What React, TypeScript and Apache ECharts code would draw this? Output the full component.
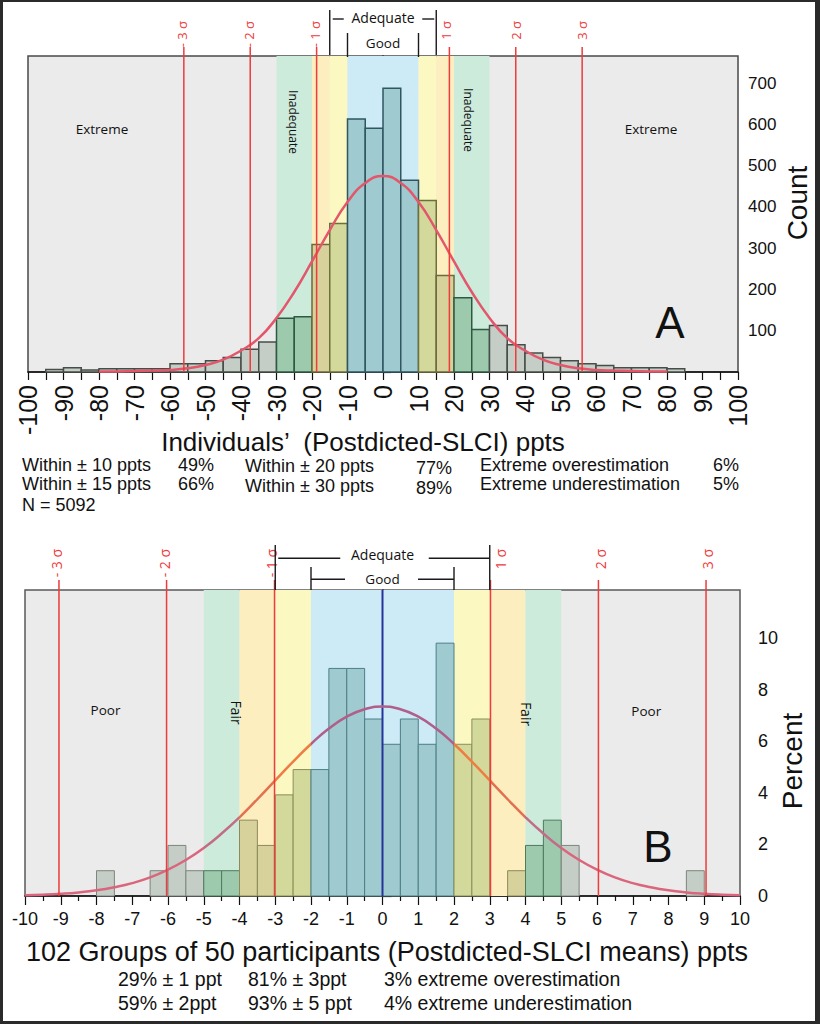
import React, { useEffect, useRef } from "react";
import * as echarts from "echarts";

// ---------------- Panel A (individuals) ----------------
const topBinStarts = [-95, -90, -85, -80, -75, -70, -65, -60, -55, -50, -45, -40, -35, -30, -25, -20, -15, -10, -5, 0, 5, 10, 15, 20, 25, 30, 35, 40, 45, 50, 55, 60, 65, 70, 75, 80];
const topBinWidth = 5;
const topCounts = [6, 10, 5, 8, 8, 8, 8, 20, 20, 27, 35, 55, 73, 130, 134, 309, 360, 613, 591, 688, 465, 416, 234, 180, 103, 113, 66, 46, 35, 27, 20, 16, 10, 10, 10, 8];
const topCurveX = [-80, -75, -70, -65, -60, -55, -50, -45, -40, -35, -30, -25, -20, -15, -10, -5, 0, 5, 10, 15, 20, 25, 30, 35, 40, 45, 50, 55, 60, 65, 70, 75, 80];
const topCurveY = [1, 1.5, 2.5, 3.5, 5, 9, 17, 30, 52, 82, 131, 194, 268, 344, 412, 458, 475, 458, 412, 344, 268, 194, 131, 82, 52, 30, 17, 9, 5, 3.5, 2.5, 1.5, 1];
const topSigmaPos = [-56.1, -37.4, -18.7, 18.7, 37.4, 56.1];
const topSigmaLabels = ["- 3 σ", "- 2 σ", "- 1 σ", "1 σ", "2 σ", "3 σ"];
const topZoneFrom = [-30, -20, -15, -10, 10, 15, 20];
const topZoneTo = [-20, -15, -10, 10, 15, 20, 30];
const topZoneKind = ["green", "orange", "yellow", "blue", "yellow", "orange", "green"];
const topYTicks = [0, 100, 200, 300, 400, 500, 600, 700];
const topYLabels = [100, 200, 300, 400, 500, 600, 700];
const topBracketFrom = [-15, -10];
const topBracketTo = [15, 10];
const topBracketLabels = ["Adequate", "Good"];
const topZoneLabels = ["Extreme", "Extreme", "Inadequate", "Inadequate"];
const topTitle = "Individuals\u2019  (Postdicted-SLCI) ppts";
const topStatsLeft = ["Within \u00b1 10 ppts", "Within \u00b1 15 ppts"];
const topStatsLeftPct = ["49%", "66%"];
const topStatsMid = ["Within \u00b1 20 ppts", "Within \u00b1 30 ppts"];
const topStatsMidPct = ["77%", "89%"];
const topStatsRight = ["Extreme overestimation", "Extreme underestimation"];
const topStatsRightPct = ["6%", "5%"];
const topN = "N = 5092";

// ---------------- Panel B (groups) ----------------
const botBinStarts = [-8, -6.5, -6, -5.5, -5, -4.5, -4, -3.5, -3, -2.5, -2, -1.5, -1, -0.5, 0, 0.5, 1, 1.5, 2, 2.5, 3.5, 4, 4.5, 5, 8.5];
const botBinWidth = 0.5;
const botPercents = [0.98, 0.98, 1.96, 0.98, 0.98, 0.98, 2.94, 1.96, 3.92, 4.9, 4.9, 8.82, 8.82, 6.86, 5.88, 6.86, 5.88, 9.8, 5.88, 6.86, 0.98, 1.96, 2.94, 1.96, 0.98];
const botCurveX = [-10, -9.5, -9, -8.5, -8, -7.5, -7, -6.5, -6, -5.5, -5, -4.5, -4, -3.5, -3, -2.5, -2, -1.5, -1, -0.5, 0, 0.5, 1, 1.5, 2, 2.5, 3, 3.5, 4, 4.5, 5, 5.5, 6, 6.5, 7, 7.5, 8, 8.5, 9, 9.5, 10];
const botCurveY = [0.03, 0.052, 0.087, 0.14, 0.22, 0.34, 0.5, 0.72, 1.02, 1.4, 1.86, 2.42, 3.05, 3.75, 4.48, 5.21, 5.89, 6.49, 6.95, 7.24, 7.34, 7.24, 6.95, 6.49, 5.89, 5.21, 4.48, 3.75, 3.05, 2.42, 1.86, 1.4, 1.02, 0.72, 0.5, 0.34, 0.22, 0.14, 0.087, 0.052, 0.03];
const botSigmaPos = [-9.05, -6.04, -3.02, 3.02, 6.04, 9.05];
const botSigmaLabels = ["- 3 σ", "- 2 σ", "- 1 σ", "1 σ", "2 σ", "3 σ"];
const botZoneFrom = [-5, -4, -3, -2, 2, 3, 4];
const botZoneTo = [-4, -3, -2, 2, 3, 4, 5];
const botZoneKind = ["green", "orange", "yellow", "blue", "yellow", "orange", "green"];
const botYTicks = [0, 2, 4, 6, 8, 10];
const botYLabels = [0, 2, 4, 6, 8, 10];
const botMean = [0];
const botBracketFrom = [-3, -2];
const botBracketTo = [3, 2];
const botBracketLabels = ["Adequate", "Good"];
const botZoneLabels = ["Poor", "Poor", "Fair", "Fair"];
const botTitle = "102 Groups of 50 participants (Postdicted-SLCI means) ppts";
const botStatsCol1 = ["29% \u00b1 1 ppt", "59% \u00b1 2ppt"];
const botStatsCol2 = ["81% \u00b1 3ppt", "93% \u00b1 5 ppt"];
const botStatsCol3 = ["3% extreme overestimation", "4% extreme underestimation"];
const panelLetters = ["A", "B"];
const axisTitles = ["Count", "Percent"];

// ---------------- styles ----------------
const TOP_YMAX = 766;
const BOT_YMAX = 11.86;
const SANS = "'Liberation Sans', Arial, sans-serif";
const HUM = "'Open Sans', 'Noto Sans', sans-serif";
const BAND: Record<string, string> = { green: "#cdebdb", orange: "#fdeebf", yellow: "#fbf8c2", blue: "#cdeaf7" };
const BAR_FILL: Record<string, string> = { gray: "#c5cec6", green: "#9dcaad", orange: "#d7d29b", yellow: "#d3d89b", blue: "#9fcacf" };
const STROKE_A: Record<string, string> = { gray: "#474d48", green: "#2f5a42", orange: "#6d6a3c", yellow: "#6d703c", blue: "#2f5661" };
const STROKE_B: Record<string, string> = { gray: "#7d857e", green: "#4e7a5e", orange: "#8c895a", yellow: "#8a8e5a", blue: "#4d7e86" };
const CURVE_B: Record<string, string> = { gray: "#d9667c", green: "#c26c88", orange: "#e3704f", yellow: "#ee7d44", blue: "#b05e8a" };
const RED = "#ee3b3b";

function zoneOf(c: number, from: number[], to: number[], kind: string[]) {
  for (let i = 0; i < from.length; i++) if (c > from[i] && c < to[i]) return kind[i];
  return "gray";
}

function bandSeries(idx: number, from: number[], to: number[], kind: string[], ymax: number) {
  return {
    type: "custom", xAxisIndex: idx, yAxisIndex: idx, z: 1, silent: true,
    data: from.map((f, i) => [f, to[i], 0]),
    encode: { x: [0, 1], y: 2 },
    renderItem: (params: any, api: any) => {
      const i = params.dataIndex;
      const p0 = api.coord([from[i], ymax]);
      const p1 = api.coord([to[i], 0]);
      return { type: "rect", shape: { x: p0[0], y: p0[1], width: p1[0] - p0[0], height: p1[1] - p0[1] }, style: { fill: BAND[kind[i]] } };
    },
  };
}

function barSeries(idx: number, starts: number[], width: number, vals: number[], from: number[], to: number[], kind: string[], stroke: Record<string, string>, lw: number) {
  return {
    type: "custom", xAxisIndex: idx, yAxisIndex: idx, z: 2, silent: true,
    data: starts.map((s, i) => [s, s + width, vals[i]]),
    encode: { x: [0, 1], y: 2 },
    renderItem: (params: any, api: any) => {
      const x0 = api.value(0), x1 = api.value(1), v = api.value(2);
      const p0 = api.coord([x0, v]);
      const p1 = api.coord([x1, 0]);
      const k = zoneOf((x0 + x1) / 2, from, to, kind);
      return { type: "rect", shape: { x: p0[0], y: p0[1], width: p1[0] - p0[0], height: p1[1] - p0[1] }, style: { fill: BAR_FILL[k], stroke: stroke[k], lineWidth: lw } };
    },
  };
}

function sigmaSeries(idx: number, pos: number[], labels: string[], ymax: number, lineTopY: number, labelY: number, fontSize: number, dx: number[]) {
  return {
    type: "custom", xAxisIndex: idx, yAxisIndex: idx, z: 5, clip: false, silent: true,
    data: pos.map((p) => [p, 0]),
    encode: { x: 0, y: 1 },
    renderItem: (params: any, api: any) => {
      const i = params.dataIndex;
      const pb = api.coord([api.value(0), 0]);
      return {
        type: "group",
        children: [
          { type: "line", shape: { x1: pb[0], y1: pb[1], x2: pb[0], y2: lineTopY }, style: { stroke: RED, lineWidth: 1.5 } },
          { type: "text", x: pb[0] + dx[i], y: labelY, rotation: Math.PI / 2, style: { text: labels[i], fill: RED, fontSize, fontFamily: HUM, align: "right", verticalAlign: "middle" } },
        ],
      };
    },
  };
}

type BL = { vTop: number; vBot: number; lineY: number; textY: number; segL: number[] | null; segR: number[] | null; fontSize: number };
function bracketSeries(idx: number, from: number[], to: number[], labels: string[], layout: BL[]) {
  return {
    type: "custom", xAxisIndex: idx, yAxisIndex: idx, z: 6, clip: false, silent: true,
    data: from.map((f, i) => [f, to[i], 0]),
    encode: { x: [0, 1], y: 2 },
    renderItem: (params: any, api: any) => {
      const i = params.dataIndex;
      const L = layout[i];
      const xl = api.coord([api.value(0), 0])[0];
      const xr = api.coord([api.value(1), 0])[0];
      const st = { stroke: "#1a1a1a", lineWidth: 1.4 };
      const children: any[] = [
        { type: "line", shape: { x1: xl, y1: L.vTop, x2: xl, y2: L.vBot }, style: st },
        { type: "line", shape: { x1: xr, y1: L.vTop, x2: xr, y2: L.vBot }, style: st },
        { type: "text", x: (xl + xr) / 2, y: L.textY, style: { text: labels[i], fill: "#111", fontSize: L.fontSize, fontFamily: HUM, align: "center", verticalAlign: "middle" } },
      ];
      if (L.segL) children.push({ type: "line", shape: { x1: xl + L.segL[0], y1: L.lineY, x2: xl + L.segL[1], y2: L.lineY }, style: st });
      if (L.segR) children.push({ type: "line", shape: { x1: xr - L.segR[0], y1: L.lineY, x2: xr - L.segR[1], y2: L.lineY }, style: st });
      return { type: "group", children };
    },
  };
}

function txt(x: number, y: number, text: string, fontSize: number, fontFamily: string, align = "left", rotation = 0) {
  return { type: "text", x, y, rotation, silent: true, z: 20, style: { text, fontSize, fontFamily, fill: "#111", align, verticalAlign: "middle" } };
}

function buildGradientStops() {
  const span = 20;
  const stops: any[] = [{ offset: 0, color: CURVE_B.gray }];
  botZoneFrom.forEach((f, i) => {
    const a = (f + 10) / span, b = (botZoneTo[i] + 10) / span;
    const prev = i === 0 ? "gray" : botZoneKind[i - 1];
    stops.push({ offset: a, color: CURVE_B[prev] });
    stops.push({ offset: a, color: CURVE_B[botZoneKind[i]] });
    stops.push({ offset: b, color: CURVE_B[botZoneKind[i]] });
  });
  const lastTo = (botZoneTo[botZoneTo.length - 1] + 10) / span;
  stops.push({ offset: lastTo, color: CURVE_B.gray });
  stops.push({ offset: 1, color: CURVE_B.gray });
  return stops;
}

export default function App() {
  const ref = useRef<HTMLDivElement>(null);
  useEffect(() => {
    if (!ref.current) return;
    const chart = echarts.init(ref.current, null, { renderer: "svg" });
    const axisLine = { show: true, lineStyle: { color: "#111", width: 1.5 } };
    const SF = 18;

    const graphic: any[] = [
      // frame
      { type: "rect", shape: { x: 0, y: 0, width: 3, height: 1024 }, style: { fill: "#2a2a2a" }, silent: true },
      { type: "rect", shape: { x: 0, y: 0, width: 820, height: 2 }, style: { fill: "#2a2a2a" }, silent: true },
      { type: "rect", shape: { x: 815, y: 0, width: 5, height: 1024 }, style: { fill: "#2a2a2a" }, silent: true },
      { type: "rect", shape: { x: 0, y: 1021, width: 820, height: 3 }, style: { fill: "#2a2a2a" }, silent: true },
      // panel A texts
      txt(102, 128.5, topZoneLabels[0], 13.5, HUM, "center"),
      txt(651, 129, topZoneLabels[1], 13.5, HUM, "center"),
      txt(293, 122, topZoneLabels[2], 12, HUM, "center", -Math.PI / 2),
      txt(468, 120, topZoneLabels[3], 12, HUM, "center", -Math.PI / 2),
      txt(670, 322, panelLetters[0], 44, SANS, "center"),
      txt(797, 203, axisTitles[0], 28, SANS, "center", Math.PI / 2),
      txt(363, 442, topTitle, 26, SANS, "center"),
      txt(22, 465, topStatsLeft[0], SF, SANS),
      txt(22, 484, topStatsLeft[1], SF, SANS),
      txt(178, 465, topStatsLeftPct[0], SF, SANS),
      txt(178, 484, topStatsLeftPct[1], SF, SANS),
      txt(245, 466, topStatsMid[0], SF, SANS),
      txt(245, 486, topStatsMid[1], SF, SANS),
      txt(416, 468, topStatsMidPct[0], SF, SANS),
      txt(416, 488, topStatsMidPct[1], SF, SANS),
      txt(480, 465, topStatsRight[0], SF, SANS),
      txt(480, 484, topStatsRight[1], SF, SANS),
      txt(739, 465, topStatsRightPct[0], SF, SANS, "right"),
      txt(739, 484, topStatsRightPct[1], SF, SANS, "right"),
      txt(22, 505, topN, SF, SANS),
      // panel B texts
      txt(105.5, 710, botZoneLabels[0], 13.5, HUM, "center"),
      txt(646.3, 710.7, botZoneLabels[1], 13.5, HUM, "center"),
      txt(236.7, 712.5, botZoneLabels[2], 14, HUM, "center", -Math.PI / 2),
      txt(526.7, 714, botZoneLabels[3], 14, HUM, "center", -Math.PI / 2),
      txt(658, 846, panelLetters[1], 44, SANS, "center"),
      txt(792, 761, axisTitles[1], 28, SANS, "center", Math.PI / 2),
      txt(387, 952, botTitle, 27, SANS, "center"),
      txt(118, 979, botStatsCol1[0], 19.5, SANS),
      txt(118, 1003, botStatsCol1[1], 19.5, SANS),
      txt(248, 979, botStatsCol2[0], 19.5, SANS),
      txt(248, 1003, botStatsCol2[1], 19.5, SANS),
      txt(384, 979, botStatsCol3[0], 19.5, SANS),
      txt(384, 1003, botStatsCol3[1], 19.5, SANS),
    ];

    const option: any = {
      animation: false,
      backgroundColor: "#ffffff",
      grid: [
        { left: 28, top: 56, width: 710, height: 316, show: true, backgroundColor: "#ebebeb", borderColor: "#4a4a4a", borderWidth: 1.5, containLabel: false, outerBoundsMode: "none" },
        { left: 25, top: 590, width: 715, height: 306, show: true, backgroundColor: "#ebebeb", borderColor: "#5a5a5a", borderWidth: 1.5, containLabel: false, outerBoundsMode: "none" },
      ],
      xAxis: [
        {
          gridIndex: 0, type: "value", min: -100, max: 100, interval: 5, position: "bottom",
          axisLine, splitLine: { show: false },
          axisTick: { show: true, length: 8, lineStyle: { color: "#111", width: 1.2 } },
          axisLabel: { rotate: 90, fontSize: 25, fontFamily: SANS, color: "#111", margin: 13, hideOverlap: false, showMinLabel: true, showMaxLabel: true, formatter: (v: number) => (v % 10 === 0 ? String(v) : "") },
        },
        {
          gridIndex: 1, type: "value", min: -10, max: 10, interval: 1, position: "bottom",
          axisLine, splitLine: { show: false },
          axisTick: { show: true, length: 9, lineStyle: { color: "#111", width: 1.2 } },
          minorTick: { show: true, splitNumber: 2, length: 5, lineStyle: { color: "#111", width: 1.2 } },
          axisLabel: { fontSize: 18, fontFamily: SANS, color: "#111", margin: 14, hideOverlap: false, showMinLabel: true, showMaxLabel: true },
        },
      ],
      yAxis: [
        {
          gridIndex: 0, type: "value", min: 0, max: TOP_YMAX, interval: 100, position: "right",
          axisLine, splitLine: { show: false },
          axisTick: { show: true, length: 8, customValues: topYTicks, lineStyle: { color: "#111", width: 1.2 } },
          axisLabel: { customValues: topYLabels, fontSize: 17, fontFamily: SANS, color: "#111", margin: 10 },
        },
        {
          gridIndex: 1, type: "value", min: 0, max: BOT_YMAX, interval: 2, position: "right",
          axisLine, splitLine: { show: false },
          axisTick: { show: true, length: 9, customValues: botYTicks, lineStyle: { color: "#111", width: 1.2 } },
          axisLabel: { customValues: botYLabels, fontSize: 18, fontFamily: SANS, color: "#111", margin: 18 },
        },
      ],
      series: [
        bandSeries(0, topZoneFrom, topZoneTo, topZoneKind, TOP_YMAX),
        barSeries(0, topBinStarts, topBinWidth, topCounts, topZoneFrom, topZoneTo, topZoneKind, STROKE_A, 1.5),
        {
          type: "line", xAxisIndex: 0, yAxisIndex: 0, z: 4, silent: true,
          data: topCurveX.map((x, i) => [x, topCurveY[i]]),
          smooth: true, showSymbol: false, symbol: "none",
          lineStyle: { color: "#e3566b", width: 2.5 },
        },
        sigmaSeries(0, topSigmaPos, topSigmaLabels, TOP_YMAX, 47, 21, 13, [-2, -1, -2, -3, 0, 0]),
        bracketSeries(0, topBracketFrom, topBracketTo, topBracketLabels, [
          { vTop: 10, vBot: 55, lineY: 19, textY: 17, segL: [3, 14], segR: [14, 2], fontSize: 14 },
          { vTop: 33, vBot: 57, lineY: 0, textY: 43, segL: null, segR: null, fontSize: 13.5 },
        ]),

        bandSeries(1, botZoneFrom, botZoneTo, botZoneKind, BOT_YMAX),
        barSeries(1, botBinStarts, botBinWidth, botPercents, botZoneFrom, botZoneTo, botZoneKind, STROKE_B, 1),
        {
          type: "custom", xAxisIndex: 1, yAxisIndex: 1, z: 3, silent: true,
          data: botMean.map((m) => [m, 0]),
          encode: { x: 0, y: 1 },
          renderItem: (params: any, api: any) => {
            const pb = api.coord([api.value(0), 0]);
            const pt = api.coord([api.value(0), BOT_YMAX]);
            return { type: "line", shape: { x1: pb[0], y1: pb[1], x2: pt[0], y2: pt[1] }, style: { stroke: "#25349b", lineWidth: 2 } };
          },
        },
        {
          type: "line", xAxisIndex: 1, yAxisIndex: 1, z: 4, silent: true,
          data: botCurveX.map((x, i) => [x, botCurveY[i]]),
          smooth: true, showSymbol: false, symbol: "none",
          lineStyle: { color: new echarts.graphic.LinearGradient(0, 0, 1, 0, buildGradientStops()), width: 2.5 },
        },
        sigmaSeries(1, botSigmaPos, botSigmaLabels, BOT_YMAX, 580, 549, 14, [-2, -2, -3, 10, 2, 1]),
        bracketSeries(1, botBracketFrom, botBracketTo, botBracketLabels, [
          { vTop: 545, vBot: 590, lineY: 558.3, textY: 554, segL: [3, 65], segR: [61, 0], fontSize: 14 },
          { vTop: 567, vBot: 590, lineY: 579.3, textY: 579, segL: [0, 34], segR: [36, 0], fontSize: 13.5 },
        ]),
      ],
      graphic,
    };
    chart.setOption(option);
    return () => chart.dispose();
  }, []);
  return <div ref={ref} style={{ position: "fixed", left: 0, top: 0, width: 820, height: 1024, background: "#fff" }} />;
}
